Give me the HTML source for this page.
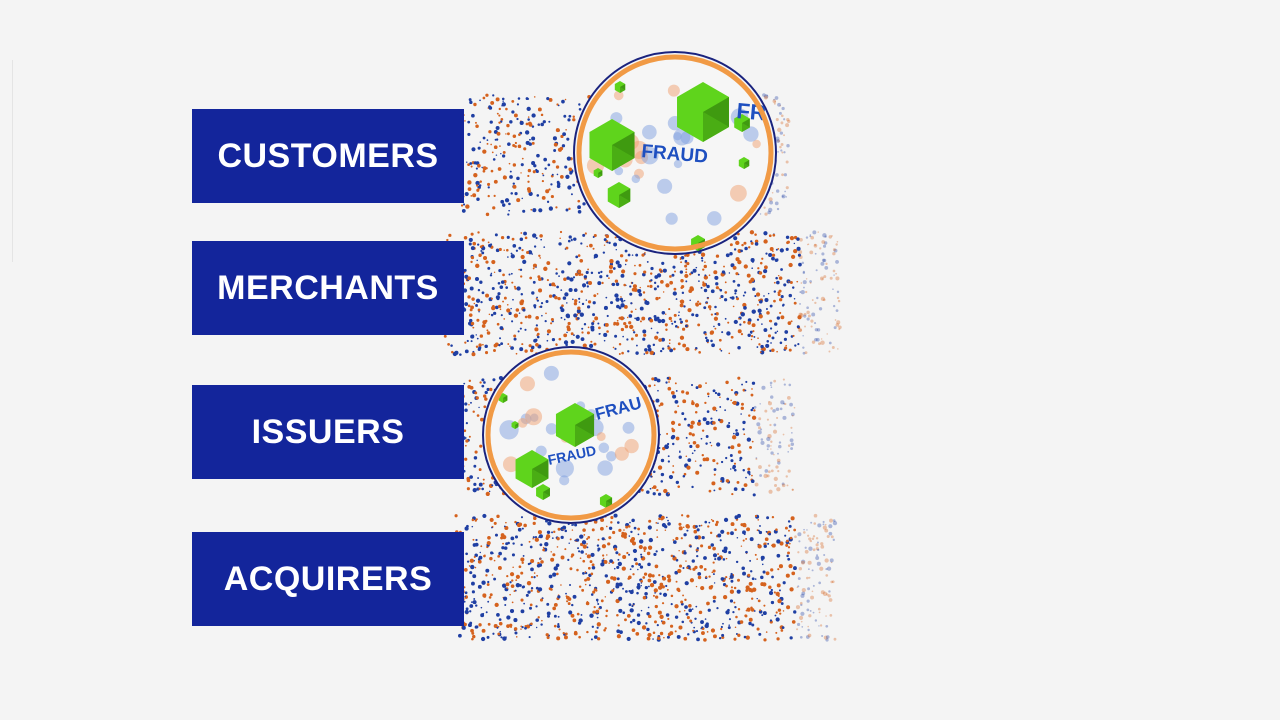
<!DOCTYPE html>
<html><head><meta charset="utf-8"><style>
html,body{margin:0;padding:0;background:#f4f4f4;width:1280px;height:720px;overflow:hidden}
.box{position:absolute;left:192px;width:272px;height:94px;background:#13259b;color:#fff;font-family:"Liberation Sans",sans-serif;font-weight:bold;font-size:34px;display:flex;align-items:center;justify-content:center;letter-spacing:0.5px}
svg{position:absolute;left:0;top:0}
</style></head><body>
<div style="position:absolute;left:0;top:60px;width:12px;height:202px;border-right:1px solid #e4e4e4"></div>
<svg id="s" width="1280" height="720"></svg>
<div class="box" style="top:109px">CUSTOMERS</div>
<div class="box" style="top:241px">MERCHANTS</div>
<div class="box" style="top:385px">ISSUERS</div>
<div class="box" style="top:532px">ACQUIRERS</div>
<script>
var s=document.getElementById('s'),ns='http://www.w3.org/2000/svg',seed=7;
function r(){seed=(seed*16807)%2147483647;return seed/2147483647;}
function el(t,a,p){var e=document.createElementNS(ns,t);for(var k in a)e.setAttribute(k,a[k]);(p||s).appendChild(e);return e;}
var bands=[[462,790,95,215,750],[445,840,232,355,1100],[462,795,378,495,700],[455,835,515,640,1100]];
bands.forEach(function(b){for(var i=0;i<b[4];i++){var x=b[0]+r()*(b[1]-b[0]),y=b[2]+r()*(b[3]-b[2]);var op=x>b[1]-40?0.35:1;el('circle',{cx:x,cy:y,r:0.7+r()*1.5,fill:r()<0.5?'#d5621e':'#1f3fa3',opacity:op});}});
function hex(cx,cy,R){var p=[];for(var i=0;i<6;i++){var a=Math.PI/3*i+Math.PI/6;p.push((cx+R*Math.cos(a))+','+(cy+R*Math.sin(a)));}
el('polygon',{points:p.join(' '),fill:'#5fd41c'});el('polygon',{points:cx+','+cy+' '+p[0]+' '+p[1],fill:'#4aad14'});el('polygon',{points:cx+','+cy+' '+p[5]+' '+p[0],fill:'#3f9a10'});}
function mag(cx,cy,R,items,texts){
 el('circle',{cx:cx,cy:cy,r:R,fill:'#f6f6f6',stroke:'#1a237e','stroke-width':2});
 for(var i=0;i<30;i++){var a=r()*6.28,d=r()*(R-15);el('circle',{cx:cx+d*Math.cos(a),cy:cy+d*Math.sin(a),r:4+r()*6,fill:r()<0.5?'#f0a070':'#7f9fe0',opacity:0.5});}
 items.forEach(function(h){hex(h[0],h[1],h[2]);});
 texts.forEach(function(t){var e=el('text',{x:t[0],y:t[1],fill:'#1e4fc0','font-family':'Liberation Sans,sans-serif','font-weight':'bold','font-size':t[2],transform:'rotate('+t[3]+' '+t[0]+' '+t[1]+')'});e.textContent=t[4];});
 el('circle',{cx:cx,cy:cy,r:R-5,fill:'none',stroke:'#f19a45','stroke-width':5});
}
mag(675,153,101,[[612,145,26],[703,112,30],[619,195,13],[742,123,9],[620,87,6],[744,163,6],[598,173,5],[698,243,8]],[[641,157,19,5,'FRAUD'],[736,118,22,5,'FR']]);
mag(571,435,88,[[575,425,22],[532,469,19],[543,492,8],[606,501,7],[503,398,5],[515,425,4]],[[549,465,14,-12,'FRAUD'],[597,420,17,-15,'FRAU']]);
</script>
</body></html>
